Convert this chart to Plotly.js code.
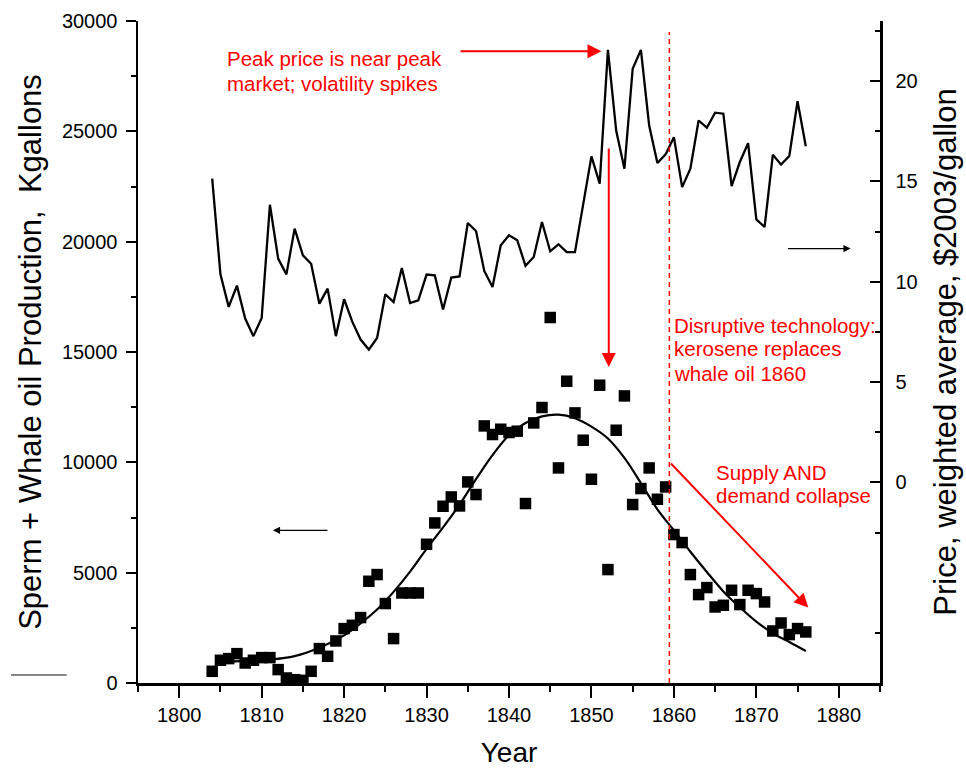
<!DOCTYPE html>
<html>
<head>
<meta charset="utf-8">
<script src="https://cdn.plot.ly/plotly-3.0.1.min.js"></script>
<style>
  html, body { margin: 0; padding: 0; background: #fff; }
  #chart { width: 966px; height: 772px; }
</style>
</head>
<body>
<div id="chart"></div>
<script>
// Years of record
const years = [
  1804,1805,1806,1807,1808,1809,1810,1811,1812,1813,1814,1815,1816,1817,1818,1819,
  1820,1821,1822,1823,1824,1825,1826,1827,1828,1829,1830,1831,1832,1833,1834,1835,
  1836,1837,1838,1839,1840,1841,1842,1843,1844,1845,1846,1847,1848,1849,1850,1851,
  1852,1853,1854,1855,1856,1857,1858,1859,1860,1861,1862,1863,1864,1865,1866,1867,
  1868,1869,1870,1871,1872,1873,1874,1875,1876
];

// Sperm + whale oil production, thousand gallons
const production = [
  530,1030,1105,1330,907,1030,1150,1150,607,227,150,120,530,1560,1210,1905,
  2465,2615,2965,4610,4914,3600,2012,4080,4080,4080,6287,7253,8010,8432,8024,9112,
  8540,11650,11260,11500,11350,11410,8132,11786,12484,16563,9746,13676,12240,11002,9234,13495,
  5140,11455,13010,8087,8812,9746,8327,8885,6727,6364,4914,4007,4325,3445,3522,4202,
  3554,4202,4052,3672,2357,2720,2194,2466,2312
];

// Weighted average price, $2003 per gallon
const price = [
  15.14,10.37,8.75,9.81,8.17,7.29,8.20,13.84,11.16,10.37,12.65,11.32,10.90,8.91,9.66,7.29,
  9.13,8.00,7.12,6.62,7.20,9.38,8.99,10.69,8.94,9.08,10.36,10.32,8.62,10.21,10.27,12.93,
  12.53,10.54,9.74,11.82,12.32,12.07,10.80,11.24,12.98,11.52,11.87,11.48,11.48,13.89,16.25,14.89,
  21.56,17.54,15.64,20.62,21.56,17.79,15.92,16.35,17.21,14.72,15.64,18.04,17.68,18.43,18.38,14.77,
  15.97,16.91,13.11,12.73,16.33,15.84,16.27,19.00,16.76
];

// Bell-shaped production fit
const fitYears = [
  1805,1808,1811,1814,1817,1820,1822,1824,1826,1828,1830,1832,1834,1836,1838,1840,1842,
  1844,1846,1848,1850,1852,1854,1856,1858,1860,1862,1864,1866,1868,1870,1872,1874,1876
];
const fitValues = [
  960,1000,1060,1220,1600,2160,2700,3330,4130,5050,6080,7050,8080,9240,10330,11230,11780,
  12080,12160,12000,11620,11080,10200,9060,7870,6920,5950,5030,4150,3430,2780,2250,1860,1450
];

// Axis ticks
const xTicks = [1800,1810,1820,1830,1840,1850,1860,1870,1880];
const yLeftTicks = [0,5000,10000,15000,20000,25000,30000];
const yRightTicks = [0,5,10,15,20];
const yRightMinor = [-7.5,-2.5,2.5,7.5,12.5,17.5,22.5];

const kerosenYear = 1859.45;

const FONT = 'Liberation Sans, Arial, Helvetica, sans-serif';
const RED = '#ff0000';

const traces = [
  {
    x: years, y: price, yaxis: 'y2', type: 'scatter', mode: 'lines',
    line: { color: '#000', width: 2.3 }, hoverinfo: 'skip', showlegend: false
  },
  {
    x: fitYears, y: fitValues, type: 'scatter', mode: 'lines',
    line: { color: '#000', width: 2.2, shape: 'spline', smoothing: 1 },
    hoverinfo: 'skip', showlegend: false
  },
  {
    x: years, y: production, type: 'scatter', mode: 'markers',
    marker: { symbol: 'square', size: 11.5, color: '#000' },
    hoverinfo: 'skip', showlegend: false
  }
];

// Red callout text, one entry per line
const redLines = [
  { text: 'Peak price is near peak', x: 1805.55, y: 28900 },
  { text: 'market; volatility spikes', x: 1805.55, y: 27765 },
  { text: 'Disruptive technology:', x: 1859.75, y: 16814 },
  { text: 'kerosene replaces', x: 1859.75, y: 15758 },
  { text: 'whale oil 1860', x: 1859.75, y: 14625 },
  { text: 'Supply AND', x: 1864.85, y: 10170 },
  { text: 'demand collapse', x: 1864.85, y: 9109 }
];

const annotations = redLines.map(l => ({
  text: l.text, x: l.x, y: l.y, xref: 'x', yref: 'y',
  xanchor: 'left', yanchor: 'top', showarrow: false, align: 'left',
  font: { family: FONT, size: 20.5, color: RED }
}));

// Arrows: [headX, headY, tailX, tailY, colour, width, size]
const arrows = [
  [1851.22, 28629, 1833.94, 28629, RED, 2, 1.4],
  [1852.10, 14321, 1852.10, 24292, RED, 2, 1.4],
  [1876.30, 3417, 1859.47, 10016, RED, 2, 1.4],
  [1811.36, 6920, 1818.16, 6920, '#000', 1.2, 1.2],
  [1881.44, 19687, 1873.67, 19687, '#000', 1.2, 1.2]
];
arrows.forEach(a => annotations.push({
  x: a[0], y: a[1], ax: a[2], ay: a[3], xref: 'x', yref: 'y', axref: 'x', ayref: 'y',
  text: '', showarrow: true, arrowhead: 2, arrowsize: a[6], arrowwidth: a[5],
  arrowcolor: a[4], standoff: 0, startstandoff: 0
}));

const layout = {
  width: 966, height: 772,
  margin: { l: 138, r: 86, t: 21, b: 89 },
  paper_bgcolor: '#fff', plot_bgcolor: '#fff',
  font: { family: FONT, color: '#000' },
  showlegend: false,
  xaxis: {
    range: [1795, 1885], tickmode: 'array', tickvals: xTicks,
    ticks: 'outside', ticklen: 12, tickwidth: 2, tickcolor: '#000',
    minor: { tickmode: 'linear', tick0: 1795, dtick: 5, ticks: 'outside', ticklen: 6, tickwidth: 2, tickcolor: '#000' },
    showline: true, linecolor: '#000', linewidth: 2.5,
    showgrid: false, zeroline: false,
    tickfont: { family: FONT, size: 20 },
    title: { text: 'Year', font: { family: FONT, size: 28 }, standoff: 18 }
  },
  xaxis2: {
    range: [1795, 1885], overlaying: 'x', side: 'top', anchor: 'y',
    tickmode: 'array', tickvals: xTicks,
    ticks: 'inside', ticklen: 12, tickwidth: 2, tickcolor: '#000',
    minor: { tickmode: 'linear', tick0: 1795, dtick: 5, ticks: 'inside', ticklen: 6, tickwidth: 2, tickcolor: '#000' },
    showticklabels: false, showline: true, linecolor: '#000', linewidth: 2.5,
    showgrid: false, zeroline: false
  },
  yaxis: {
    range: [0, 30000], tickmode: 'array', tickvals: yLeftTicks, tickformat: 'd',
    ticks: 'outside', ticklen: 10, tickwidth: 2, tickcolor: '#000',
    minor: { tickmode: 'linear', tick0: 0, dtick: 2500, ticks: 'outside', ticklen: 5, tickwidth: 2, tickcolor: '#000' },
    showline: true, linecolor: '#000', linewidth: 2.5,
    showgrid: false, zeroline: false,
    tickfont: { family: FONT, size: 20 }, ticklabelstandoff: 4,
    title: { text: 'Sperm + Whale oil Production,  Kgallons', font: { family: FONT, size: 31 }, standoff: 11 }
  },
  yaxis2: {
    range: [-10, 23], overlaying: 'y', side: 'right', anchor: 'x',
    tickmode: 'array', tickvals: yRightTicks,
    ticks: 'inside', ticklen: 10, tickwidth: 2, tickcolor: '#000',
    minor: { tickmode: 'array', tickvals: yRightMinor, ticks: 'inside', ticklen: 5, tickwidth: 2, tickcolor: '#000' },
    showline: true, linecolor: '#000', linewidth: 2.5,
    showgrid: false, zeroline: false,
    tickfont: { family: FONT, size: 20 }, ticklabelstandoff: 9,
    title: { text: 'Price, weighted average, $2003/gallon', font: { family: FONT, size: 31 }, standoff: 18 }
  },
  shapes: [
    {
      type: 'line', xref: 'x', yref: 'y', x0: kerosenYear, x1: kerosenYear, y0: 0, y1: 29500,
      line: { color: RED, width: 1.5, dash: '5px,4px' }
    },
    {
      type: 'line', xref: 'paper', yref: 'paper', x0: -0.1712, x1: -0.0961, y0: 0.0121, y1: 0.0121,
      line: { color: '#111', width: 1 }
    }
  ],
  annotations: annotations
};

Plotly.newPlot('chart', traces, layout, { staticPlot: true, displayModeBar: false });
</script>
</body>
</html>
